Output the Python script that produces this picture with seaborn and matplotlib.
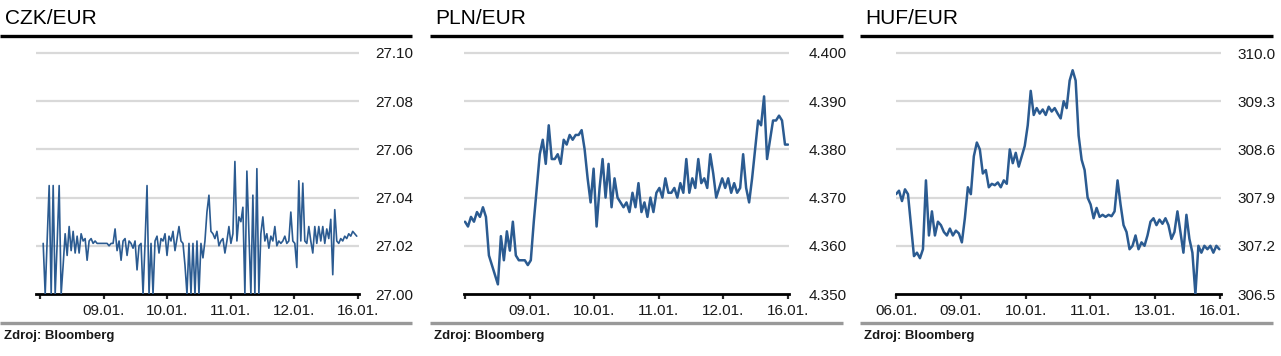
import numpy as np
import pandas as pd
import matplotlib
matplotlib.use("Agg")
import matplotlib.pyplot as plt
from matplotlib.lines import Line2D
import seaborn as sns

sns.set_style("white")
plt.rcParams['font.family'] = ['Liberation Sans', 'DejaVu Sans']

LINE = "#2b5b91"
GRID = "#d9d9d9"

# CZK/EUR intraday
czk = [27.021, 27.000, 27.022, 27.045, 27.000, 27.045, 27.000, 27.021, 27.045, 27.000,
       27.012, 27.025, 27.016, 27.028, 27.018, 27.026, 27.017, 27.024, 27.017, 27.025,
       27.022, 27.023, 27.014, 27.022, 27.023, 27.021, 27.022, 27.021, 27.021, 27.021,
       27.021, 27.021, 27.021, 27.020, 27.021, 27.021, 27.027, 27.018, 27.022, 27.014,
       27.022, 27.023, 27.016, 27.022, 27.021, 27.019, 27.022, 27.010, 27.020, 27.021,
       27.000, 27.021, 27.045, 27.000, 27.021, 27.000, 27.022, 27.024, 27.017, 27.023,
       27.022, 27.025, 27.016, 27.024, 27.022, 27.026, 27.018, 27.023, 27.028, 27.022,
       27.021, 27.012, 27.000, 27.021, 27.000, 27.021, 27.000, 27.022, 27.000, 27.021,
       27.015, 27.022, 27.034, 27.041, 27.026, 27.025, 27.023, 27.026, 27.020, 27.022,
       27.023, 27.017, 27.022, 27.028, 27.021, 27.025, 27.055, 27.022, 27.032, 27.030,
       27.036, 27.000, 27.051, 27.025, 27.000, 27.041, 27.000, 27.052, 27.000, 27.025,
       27.032, 27.022, 27.025, 27.019, 27.024, 27.022, 27.028, 27.020, 27.022, 27.021,
       27.022, 27.024, 27.021, 27.022, 27.034, 27.022, 27.021, 27.011, 27.047, 27.022,
       27.046, 27.022, 27.021, 27.028, 27.022, 27.017, 27.028, 27.021, 27.028, 27.022,
       27.028, 27.021, 27.027, 27.023, 27.031, 27.008, 27.035, 27.022, 27.021, 27.023,
       27.022, 27.024, 27.023, 27.025, 27.024, 27.026, 27.025, 27.024]

# PLN/EUR
pln = [4.365, 4.364, 4.366, 4.365, 4.367, 4.366, 4.368, 4.366, 4.358, 4.356,
       4.354, 4.352, 4.362, 4.357, 4.363, 4.359, 4.365, 4.358, 4.357, 4.357,
       4.357, 4.356, 4.357, 4.365, 4.372, 4.379, 4.382, 4.377, 4.385, 4.378,
       4.378, 4.379, 4.377, 4.382, 4.381, 4.383, 4.382, 4.383, 4.383, 4.384,
       4.380, 4.374, 4.369, 4.376, 4.364, 4.372, 4.378, 4.370, 4.377, 4.368,
       4.374, 4.370, 4.369, 4.368, 4.369, 4.367, 4.371, 4.368, 4.373, 4.367,
       4.369, 4.366, 4.370, 4.367, 4.371, 4.372, 4.370, 4.374, 4.371, 4.371,
       4.372, 4.370, 4.373, 4.371, 4.378, 4.371, 4.374, 4.372, 4.378, 4.373,
       4.374, 4.372, 4.379, 4.375, 4.370, 4.372, 4.374, 4.372, 4.374, 4.371,
       4.373, 4.371, 4.372, 4.379, 4.372, 4.369, 4.374, 4.380, 4.386, 4.385,
       4.391, 4.378, 4.382, 4.386, 4.386, 4.387, 4.386, 4.381, 4.381]

# HUF/EUR
huf = [307.95, 308.00, 307.85, 308.02, 307.95, 307.50, 307.05, 307.10, 307.02, 307.15,
       308.15, 307.35, 307.70, 307.35, 307.55, 307.50, 307.40, 307.35, 307.45, 307.35,
       307.42, 307.38, 307.25, 307.60, 308.05, 307.95, 308.50, 308.70, 308.60, 308.25,
       308.30, 308.05, 308.10, 308.08, 308.12, 308.05, 308.15, 308.10, 308.60, 308.40,
       308.55, 308.35, 308.50, 308.65, 308.95, 309.45, 309.10, 309.20, 309.12, 309.18,
       309.10, 309.22, 309.15, 309.20, 309.12, 309.05, 309.30, 309.20, 309.60, 309.75,
       309.60, 308.80, 308.45, 308.30, 307.90, 307.80, 307.60, 307.75, 307.62, 307.65,
       307.62, 307.65, 307.63, 307.70, 308.15, 307.80, 307.50, 307.40, 307.15, 307.20,
       307.35, 307.15, 307.25, 307.20, 307.35, 307.55, 307.60, 307.50, 307.58, 307.52,
       307.60, 307.50, 307.30, 307.40, 307.70, 307.40, 307.10, 307.65, 307.30, 307.10,
       306.50, 307.20, 307.10, 307.20, 307.15, 307.20, 307.10, 307.20, 307.15]

czk_xlabels = ["", "09.01.", "10.01.", "11.01.", "12.01.", "16.01."]
pln_xlabels = ["", "09.01.", "10.01.", "11.01.", "12.01.", "16.01."]
huf_xlabels = ["06.01.", "09.01.", "10.01.", "11.01.", "13.01.", "16.01."]

czk_yticks = [27.00, 27.02, 27.04, 27.06, 27.08, 27.10]
pln_yticks = [4.350, 4.360, 4.370, 4.380, 4.390, 4.400]
huf_yticks = [306.5, 307.2, 307.9, 308.6, 309.3, 310.0]

W, H = 1281, 356
fig = plt.figure(figsize=(W / 100, H / 100), dpi=100)


def px_axes(left, right, top, bottom):
    return fig.add_axes([left / W, 1 - bottom / H, (right - left) / W, (bottom - top) / H])


def hline(x0, x1, y, color, lw):
    fig.add_artist(Line2D([x0 / W, x1 / W], [1 - y / H, 1 - y / H],
                          transform=fig.transFigure, color=color, lw=lw,
                          solid_capstyle="butt"))


panels = [
    # title, values, x start/end (days), yticks, fmt, xlabels, axes px, day px, panel px, lw
    ("CZK/EUR", czk, 0.05, 4.98, czk_yticks, "{:.2f}", czk_xlabels,
     (36, 359), (40, 358), (0, 412), 1.2, 12),
    ("PLN/EUR", pln, 0.0, 5.0, pln_yticks, "{:.3f}", pln_xlabels,
     (464, 789), (465, 788), (430, 843), 1.8, 14),
    ("HUF/EUR", huf, 0.0, 4.99, huf_yticks, "{:.1f}", huf_xlabels,
     (896, 1221), (896, 1220), (860, 1273), 1.8, 12),
]

for title, vals, x0, x1, yt, fmt, xl, (al, ar), (d0, d5), (pl, pr), lw, pad in panels:
    ax = px_axes(al, ar, 45, 294)
    ppd = (d5 - d0) / 5.0
    ax.set_xlim((al - d0) / ppd, (ar - d0) / ppd)
    span = yt[-1] - yt[0]
    ax.set_ylim(yt[0], yt[0] + span * (294 - 45) / (294 - 53))

    df = pd.DataFrame({"t": np.linspace(x0, x1, len(vals)), "v": vals})
    sns.lineplot(data=df, x="t", y="v", ax=ax, color=LINE, lw=lw, zorder=3)

    for v in yt[1:]:
        ax.axhline(v, color=GRID, lw=1.6, zorder=1)

    ax.set_yticks(yt)
    ax.set_yticklabels([fmt.format(v) for v in yt])
    ax.yaxis.tick_right()
    ax.tick_params(axis="y", length=0, pad=pad, labelsize=11, labelcolor="#1a1a1a")
    ax.set_xticks(range(6))
    ax.set_xticklabels(xl)
    ax.tick_params(axis="x", length=3.5, width=1.6, pad=4, labelsize=11,
                   labelcolor="#1a1a1a", direction="out", bottom=True)
    ax.set_xlabel("")
    ax.set_ylabel("")
    for s in ["top", "left", "right"]:
        ax.spines[s].set_visible(False)
    ax.spines["bottom"].set_linewidth(2.0)
    ax.spines["bottom"].set_color("black")
    ax.set_facecolor("none")

    fig.text((pl + 5) / W, 1 - 18 / H, title, fontsize=15, color="black",
             va="center", ha="left")
    hline(pl, pr, 36, "black", 2.4)
    hline(pl, pr, 323, "#999999", 2.4)
    fig.text((pl + 4) / W, 1 - 336 / H, "Zdroj: Bloomberg", fontsize=9.5,
             fontweight="bold", color="#1a1a1a", va="center", ha="left")

fig.savefig("out.png", dpi=100)
